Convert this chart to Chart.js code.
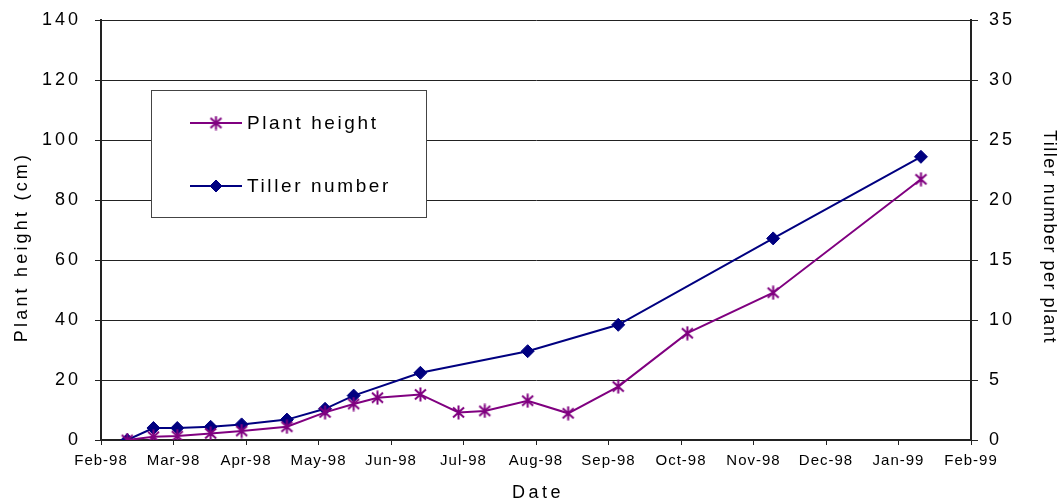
<!DOCTYPE html>
<html>
<head>
<meta charset="utf-8">
<title>Plant height and tiller number</title>
<script src="https://cdn.jsdelivr.net/npm/chart.js@4.4.1/dist/chart.umd.min.js"></script>
<style>
  html, body { margin: 0; padding: 0; background: #fff; }
  canvas { display: block; }
</style>
</head>
<body>
<canvas id="growthChart" width="1062" height="502"></canvas>
<script>
// sampling dates, in days after 1 Feb 1998
const heightDays = [11, 22, 32, 46, 59, 78, 94, 106, 116, 134, 150, 161, 179, 196, 217, 246, 282, 344];
const plantHeight = [0, 1.1, 1.3, 2.2, 3.0, 4.4, 9.2, 12.0, 14.1, 15.2, 9.2, 9.7, 13.1, 8.9, 17.8, 35.6, 49.1, 86.9];

const tillerDays = [11, 22, 32, 46, 59, 78, 94, 106, 134, 179, 217, 282, 344];
const tillerNumber = [0, 1.0, 1.0, 1.1, 1.3, 1.7, 2.6, 3.7, 5.6, 7.4, 9.6, 16.8, 23.6];

const monthLabels = ["Feb-98", "Mar-98", "Apr-98", "May-98", "Jun-98", "Jul-98", "Aug-98",
  "Sep-98", "Oct-98", "Nov-98", "Dec-98", "Jan-99", "Feb-99"];

const PURPLE = "#800080";
const NAVY = "#000080";
const FONT = "'Liberation Sans', Arial, sans-serif";

// Excel style star: an X with a vertical bar through it
function makeStar(color) {
  const c = document.createElement("canvas");
  c.width = 15;
  c.height = 15;
  const g = c.getContext("2d");
  g.strokeStyle = color;
  g.lineWidth = 2;
  g.beginPath();
  g.moveTo(2, 2.5); g.lineTo(13, 12.5);
  g.moveTo(13, 2.5); g.lineTo(2, 12.5);
  g.moveTo(7.5, 0.5); g.lineTo(7.5, 14.5);
  g.stroke();
  return c;
}
const starImage = makeStar(PURPLE);

// wider letter spacing for the tick labels, like the original
const labelSpacing = { x: "1px", y: "3px", y1: "3px" };

const spacingPlugin = {
  id: "spacing",
  afterLayout(chart) {
    Object.keys(labelSpacing).forEach((id) => {
      const scale = chart.scales[id];
      if (!scale || scale._spaced) return;
      const orig = scale.drawLabels;
      scale.drawLabels = function (area) {
        this.ctx.save();
        this.ctx.letterSpacing = labelSpacing[id];
        orig.call(this, area);
        this.ctx.restore();
      };
      scale._spaced = true;
    });
  },
};

function spacedText(ctx, text, x, y, spacing) {
  ctx.letterSpacing = spacing;
  ctx.fillText(text, x, y);
}

// axis titles and the boxed legend
const decorPlugin = {
  id: "decor",
  afterDraw(chart) {
    const ctx = chart.ctx;
    ctx.save();
    ctx.fillStyle = "#000";
    ctx.font = "18px " + FONT;
    ctx.textAlign = "center";

    ctx.textBaseline = "alphabetic";
    spacedText(ctx, "Date", 538, 497.5, "3.5px");

    ctx.textBaseline = "middle";
    ctx.save();
    ctx.translate(22.5, 247);
    ctx.rotate(-Math.PI / 2);
    spacedText(ctx, "Plant height (cm)", 0, 0, "3.2px");
    ctx.restore();

    ctx.save();
    ctx.translate(1049, 237);
    ctx.rotate(Math.PI / 2);
    spacedText(ctx, "Tiller number per plant", 0, 0, "1.5px");
    ctx.restore();

    // legend box
    ctx.fillStyle = "#fff";
    ctx.fillRect(151.5, 90.5, 275, 127);
    ctx.strokeStyle = "#444";
    ctx.lineWidth = 1;
    ctx.strokeRect(151.5, 90.5, 275, 127);

    const entries = [
      { text: "Plant height", color: PURPLE, y: 123, style: starImage, radius: 7 },
      { text: "Tiller number", color: NAVY, y: 186, style: "rectRot", radius: 6 },
    ];
    entries.forEach((e) => {
      ctx.strokeStyle = e.color;
      ctx.fillStyle = e.color;
      ctx.lineWidth = 2;
      ctx.beginPath();
      ctx.moveTo(190, e.y);
      ctx.lineTo(242, e.y);
      ctx.stroke();
      ctx.lineWidth = 1;
      Chart.helpers.drawPoint(ctx, { pointStyle: e.style, radius: e.radius, rotation: 0, borderWidth: 1 }, 216, e.y);
      ctx.fillStyle = "#000";
      ctx.font = "19px " + FONT;
      ctx.textAlign = "left";
      ctx.textBaseline = "alphabetic";
      spacedText(ctx, e.text, 247, e.y + 6.3, "2.6px");
    });
    ctx.restore();
  },
};

const ctx = document.getElementById("growthChart").getContext("2d");
new Chart(ctx, {
  type: "line",
  data: {
    datasets: [
      {
        label: "Plant height",
        data: heightDays.map((d, i) => ({ x: d, y: plantHeight[i] })),
        yAxisID: "y",
        borderColor: PURPLE,
        backgroundColor: PURPLE,
        borderWidth: 2,
        pointStyle: starImage,
        pointRadius: 7,
        tension: 0,
      },
      {
        label: "Tiller number",
        data: tillerDays.map((d, i) => ({ x: d, y: tillerNumber[i] })),
        yAxisID: "y1",
        borderColor: NAVY,
        backgroundColor: NAVY,
        borderWidth: 2,
        pointStyle: "rectRot",
        pointRadius: 6.5,
        pointBorderWidth: 1,
        tension: 0,
      },
    ],
  },
  options: {
    responsive: false,
    animation: false,
    devicePixelRatio: 1,
    layout: { padding: { top: 20, left: 0, right: 0, bottom: 0 } },
    plugins: {
      legend: { display: false },
      tooltip: { enabled: false },
    },
    scales: {
      x: {
        type: "linear",
        min: 0,
        max: 365,
        afterBuildTicks: (scale) => {
          scale.ticks = monthLabels.map((_, i) => ({ value: (i * 365) / 12 }));
        },
        afterFit: (scale) => { scale.height = 62; },
        ticks: {
          autoSkip: false,
          maxRotation: 0,
          color: "#000",
          padding: 7,
          font: { family: FONT, size: 15 },
          callback: (value, index) => monthLabels[index],
        },
        grid: { drawOnChartArea: false, drawTicks: true, tickLength: 5, color: "#222" },
        border: { display: true, color: "#222", width: 2 },
      },
      y: {
        position: "left",
        min: 0,
        max: 140,
        afterFit: (scale) => { scale.width = 101; },
        ticks: {
          stepSize: 20,
          color: "#000",
          padding: 14,
          font: { family: FONT, size: 18, lineHeight: 0.5 },
        },
        grid: { color: "#222", lineWidth: 1, drawTicks: true, tickLength: 6, tickColor: "#222" },
        border: { display: true, color: "#222", width: 2 },
      },
      y1: {
        position: "right",
        min: 0,
        max: 35,
        afterFit: (scale) => { scale.width = 91; },
        ticks: {
          stepSize: 5,
          color: "#000",
          padding: 11,
          font: { family: FONT, size: 18, lineHeight: 0.5 },
        },
        grid: { drawOnChartArea: false, drawTicks: true, tickLength: 7, color: "#222" },
        border: { display: true, color: "#222", width: 2 },
      },
    },
  },
  plugins: [spacingPlugin, decorPlugin],
});
</script>
</body>
</html>
